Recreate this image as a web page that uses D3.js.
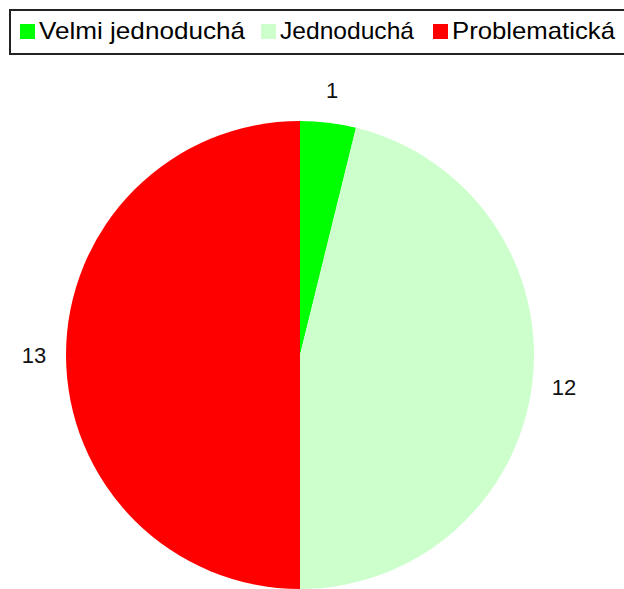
<!DOCTYPE html>
<html>
<head>
<meta charset="utf-8">
<script src="https://cdn.jsdelivr.net/npm/d3@7"></script>
<style>
  body { margin: 0; background: #fff; }
  svg { display: block; }
  text { font-family: "Liberation Sans", Arial, sans-serif; fill: #000; }
</style>
</head>
<body>
<div id="chart"></div>
<script>
// data
var categories = ["Velmi jednoduchá", "Jednoduchá", "Problematická"];
var values = [1, 12, 13];
var colors = ["#00ff00", "#ccffcc", "#ff0000"];

var width = 624, height = 589;

var svg = d3.select("#chart")
  .append("svg")
  .attr("width", width)
  .attr("height", height);

// legend box (runs off right edge like the original)
var legend = svg.append("g");
legend.append("rect")
  .attr("x", 10).attr("y", 10)
  .attr("width", 640).attr("height", 44)
  .style("fill", "#fff")
  .style("stroke", "#222")
  .style("stroke-width", 2);

var legendX = [20, 261, 433];   // swatch positions
var legendW = [206, 134, 163];  // text widths
var items = legend.selectAll("g.item")
  .data(categories)
  .enter().append("g")
  .attr("class", "item")
  .attr("transform", function(d, i) { return "translate(" + legendX[i] + ",0)"; });

items.append("rect")
  .attr("x", 0).attr("y", 24)
  .attr("width", 15).attr("height", 15)
  .style("fill", function(d, i) { return colors[i]; });

items.append("text")
  .attr("x", 19).attr("y", 39)
  .attr("textLength", function(d, i) { return legendW[i]; })
  .attr("lengthAdjust", "spacingAndGlyphs")
  .style("font-size", "24px")
  .text(function(d) { return d; });

// pie
var cx = 300, cy = 355, radius = 234;
var g = svg.append("g")
  .attr("transform", "translate(" + cx + "," + cy + ")");

var pie = d3.pie().sort(null).value(function(d) { return d; });
var arc = d3.arc().innerRadius(0).outerRadius(radius);
var labelArc = d3.arc().innerRadius(266).outerRadius(266);

var arcs = pie(values);

g.selectAll("path")
  .data(arcs)
  .enter().append("path")
  .attr("d", arc)
  .style("fill", function(d, i) { return colors[i]; });

g.selectAll("text.lbl")
  .data(arcs)
  .enter().append("text")
  .attr("class", "lbl")
  .attr("transform", function(d) { return "translate(" + labelArc.centroid(d) + ")"; })
  .attr("text-anchor", "middle")
  .attr("dominant-baseline", "central")
  .style("font-size", "22px")
  .style("fill", "#111")
  .text(function(d) { return d.data; });
</script>
</body>
</html>
